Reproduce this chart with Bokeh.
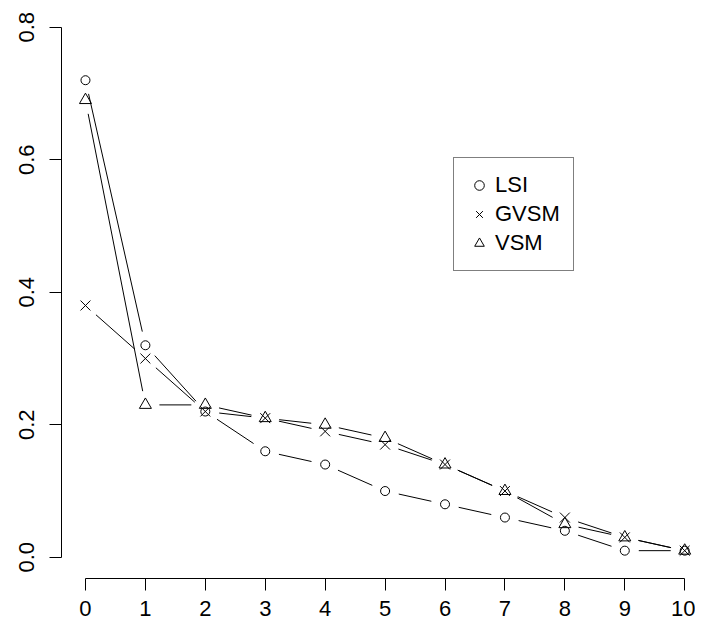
import math
from bokeh.plotting import figure
from bokeh.models import Range1d, FixedTicker, Legend, LegendItem, PrintfTickFormatter
from bokeh.embed import file_html
from bokeh.resources import INLINE

# ---- data ----
x_vals = [0, 1, 2, 3, 4, 5, 6, 7, 8, 9, 10]
lsi = [0.72, 0.32, 0.22, 0.16, 0.14, 0.10, 0.08, 0.06, 0.04, 0.01, 0.01]
gvsm = [0.38, 0.30, 0.22, 0.21, 0.19, 0.17, 0.14, 0.10, 0.06, 0.03, 0.01]
vsm = [0.69, 0.23, 0.23, 0.21, 0.20, 0.18, 0.14, 0.10, 0.05, 0.03, 0.01]
series_names = ["LSI", "GVSM", "VSM"]
series_markers = ["circle", "x", "triangle"]
x_ticks = [0, 1, 2, 3, 4, 5, 6, 7, 8, 9, 10]
y_ticks = [0.0, 0.2, 0.4, 0.6, 0.8]

# ---- layout ----
W, H = 695, 627
ML, MR, MT, MB = 61, 0, 12, 49
X0, X1 = -0.4, 10.18
Y0, Y1 = -0.032, 0.8222
FONT = "Liberation Sans"
FS = "22px"

p = figure(width=W, height=H, output_backend="svg", toolbar_location=None,
           x_range=Range1d(X0, X1), y_range=Range1d(Y0, Y1),
           min_border_left=ML, min_border_right=MR, min_border_top=MT,
           min_border_bottom=MB)
p.grid.visible = False
p.outline_line_color = None
p.background_fill_color = "white"
p.border_fill_color = "white"

for ax in (p.xaxis[0], p.yaxis[0]):
    ax.axis_line_color = "black"
    ax.axis_line_width = 1
    ax.major_tick_line_color = "black"
    ax.major_tick_out = 12
    ax.major_tick_in = 0
    ax.minor_tick_out = 0
    ax.minor_tick_in = 0
    ax.major_label_text_font = FONT
    ax.major_label_text_font_size = FS
    ax.major_label_text_color = "black"

p.xaxis.ticker = FixedTicker(ticks=x_ticks)
p.xaxis.bounds = (x_ticks[0], x_ticks[-1])
p.xaxis.major_label_standoff = 10

p.yaxis.ticker = FixedTicker(ticks=y_ticks)
p.yaxis.bounds = (y_ticks[0], y_ticks[-1])
p.yaxis.formatter = PrintfTickFormatter(format="%.1f")
p.yaxis.major_label_orientation = "vertical"
p.yaxis.major_label_standoff = 15

# pixel scale, used to leave R-style gaps around points (type = "b")
fw = W - ML - MR
fh = H - MT - MB
sx = fw / (X1 - X0)
sy = fh / (Y1 - Y0)
GAP = 14.0

def gapped_segments(xs, ys):
    a0, b0, a1, b1 = [], [], [], []
    for i in range(len(xs) - 1):
        ddx = xs[i + 1] - xs[i]
        ddy = ys[i + 1] - ys[i]
        L = math.hypot(ddx * sx, ddy * sy)
        if L <= 2 * GAP:
            continue
        f = GAP / L
        a0.append(xs[i] + f * ddx)
        b0.append(ys[i] + f * ddy)
        a1.append(xs[i + 1] - f * ddx)
        b1.append(ys[i + 1] - f * ddy)
    return a0, b0, a1, b1

all_series = [lsi, gvsm, vsm]
sizes = {"circle": 9, "x": 14, "triangle": 12}
items = []
for name, marker, ys in zip(series_names, series_markers, all_series):
    a0, b0, a1, b1 = gapped_segments(x_vals, ys)
    p.segment(a0, b0, a1, b1, line_color="black", line_width=1)
    r = p.scatter(x_vals, ys, marker=marker, size=sizes[marker],
                  fill_color=None, line_color="black", line_width=1)
    items.append(LegendItem(label=name, renderers=[r]))

legend = Legend(items=items, location=(392, 307))
legend.margin = 0
legend.padding = 13
legend.spacing = 1
legend.glyph_width = 24
legend.glyph_height = 28
legend.label_standoff = 4
legend.label_text_font = FONT
legend.label_text_font_size = FS
legend.label_text_color = "black"
legend.label_height = 28
legend.border_line_color = "black"
legend.border_line_width = 1
legend.background_fill_color = "white"
legend.background_fill_alpha = 1.0
p.add_layout(legend, "center")

open("out.html", "w").write(file_html(p, INLINE))
